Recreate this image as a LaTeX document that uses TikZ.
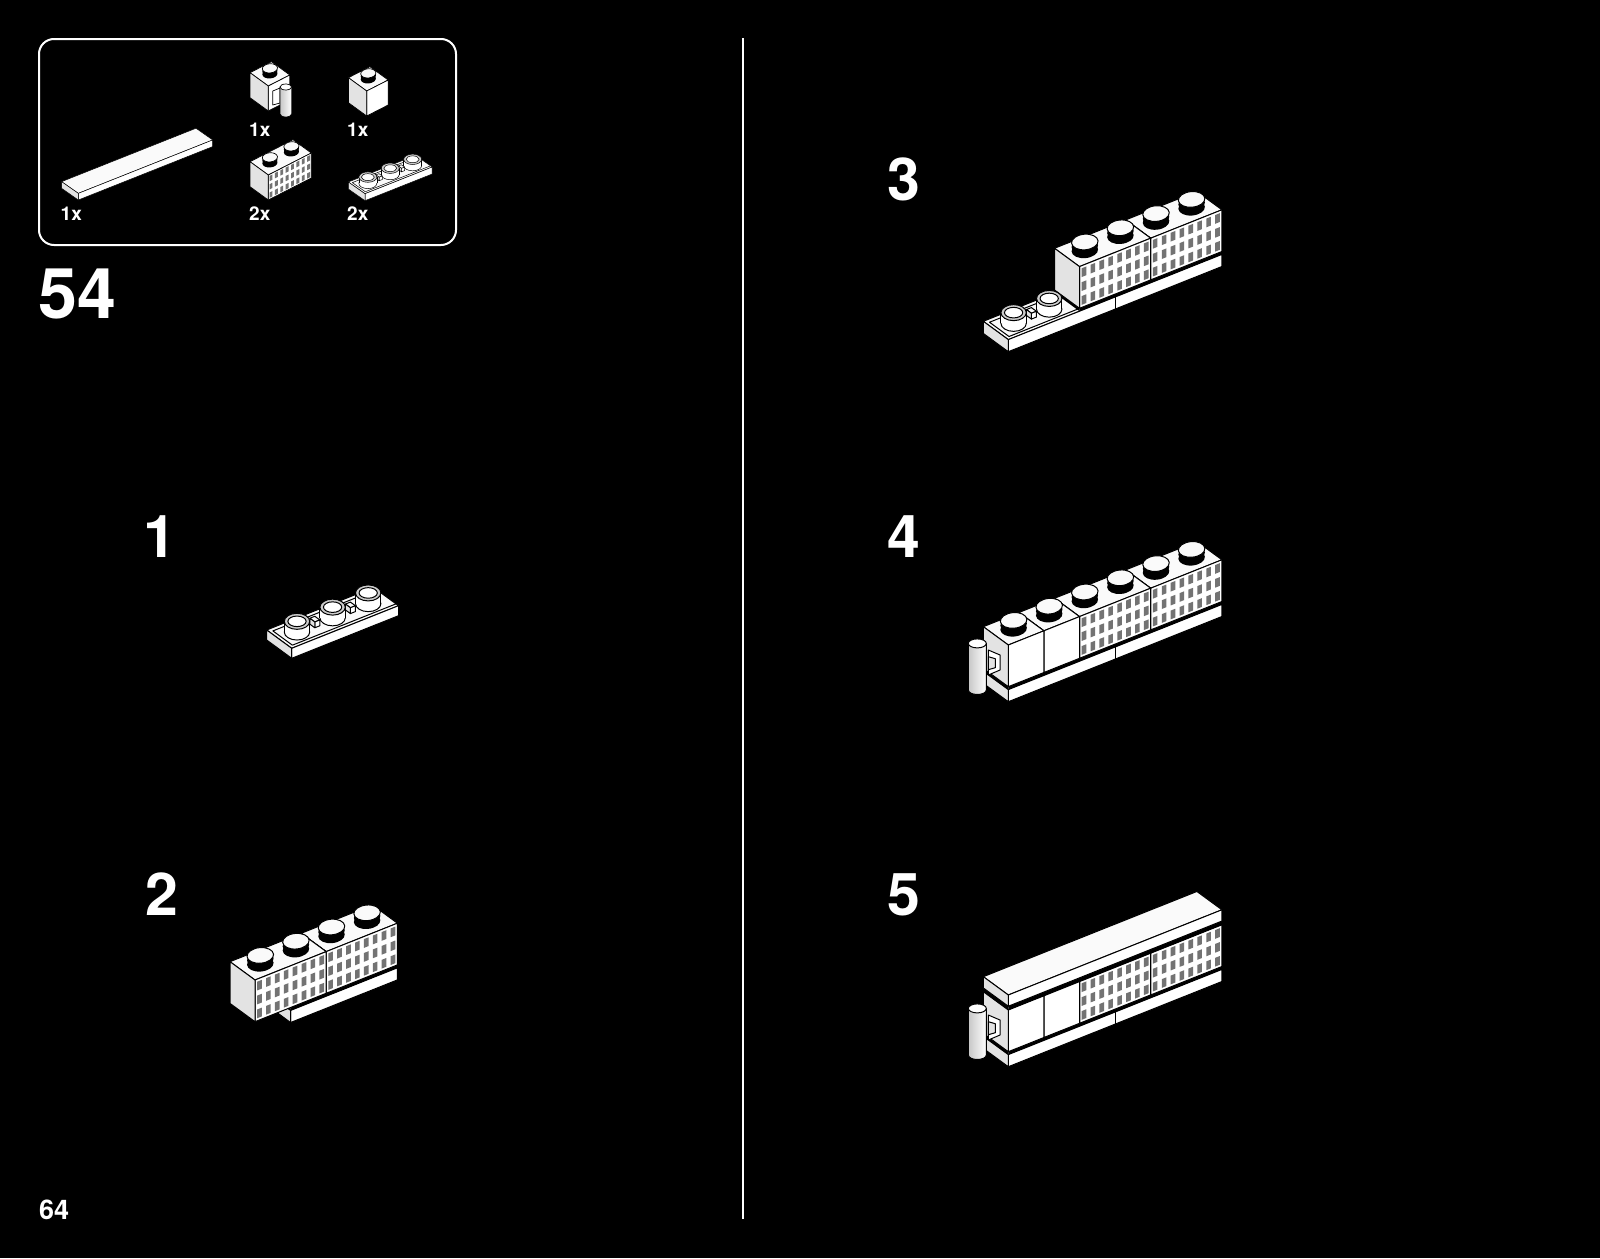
\documentclass[tikz,border=0pt]{standalone}
\usepackage{fontspec}
\setmainfont{TeX Gyre Heros}
\usetikzlibrary{calc}
\definecolor{endgray}{gray}{0.89}
\definecolor{topwhite}{gray}{0.98}
\definecolor{wingray}{gray}{0.45}
\definecolor{ringgray}{gray}{0.8}
\tikzset{
  face/.style={draw=black, line width=1pt, line join=round},
  stepiso/.style={x={(35.6pt,14.2pt)}, y={(0pt,41.7pt)}, z={(-25pt,18.3pt)}},
  brickiso/.style={x={(21.5pt,11pt)}, y={(0pt,25pt)}, z={(-18.3pt,13.3pt)}, face/.append style={line width=.7pt}},
  flatiso/.style={x={(22.4pt,8.9pt)}, y={(0pt,7pt)}, z={(-16.7pt,11.7pt)}, face/.append style={line width=.5pt}},
  hingeshade/.style={face, left color=black!22, right color=white},
  bignum/.style={inner sep=0pt, anchor=base west, text=white, font=\bfseries\fontsize{70}{70}\selectfont},
  stepnum/.style={inner sep=0pt, anchor=base west, text=white, font=\bfseries\fontsize{59}{59}\selectfont},
  pagenum/.style={inner sep=0pt, anchor=base west, text=white, font=\bfseries\fontsize{27}{27}\selectfont},
  qty/.style={inner sep=0pt, anchor=base west, text=white, font=\bfseries\fontsize{19}{19}\selectfont},
}
% sizes of the studs, changed inside the small parts
\def\srx{13.3}\def\sry{7.8}\def\sth{.2}
\def\hrx{12.7}\def\hry{8}\def\hth{.257}
% x0 x1 y0 y1 z0 z1
\newcommand{\block}[6]{
  \filldraw[face, fill=topwhite] (#1,#4,#5) -- (#2,#4,#5) -- (#2,#4,#6) -- (#1,#4,#6) -- cycle;
  \filldraw[face, fill=white] (#1,#3,#5) -- (#2,#3,#5) -- (#2,#4,#5) -- (#1,#4,#5) -- cycle;
  \filldraw[face, fill=endgray] (#1,#3,#5) -- (#1,#4,#5) -- (#1,#4,#6) -- (#1,#3,#6) -- cycle;
}
% x0 studs y0
\newcommand{\windows}[3]{
  \pgfmathtruncatemacro\nw{4*#2-1}
  \foreach \i in {0,...,\nw} {
    \foreach \j in {1,3,5} {
      \pgfmathsetmacro\wx{#1+.125+.25*\i}
      \pgfmathsetmacro\wy{#3+\j/6}
      \fill[wingray] (\wx-.065,\wy-.105,0) -- (\wx+.065,\wy-.105,0) -- (\wx+.065,\wy+.105,0) -- (\wx-.065,\wy+.105,0) -- cycle;
    }
  }
}
\newcommand{\stud}[2]{
  \fill[black] (#1+.5,#2,.5) ellipse [x radius=\srx pt, y radius=\sry pt, rotate=5];
  \fill[black] (#1+.5,#2+.5*\sth,.5) ellipse [x radius=\srx pt, y radius=\sry pt, rotate=5];
  \filldraw[face, fill=topwhite] (#1+.5,#2+\sth,.5) ellipse [x radius=\srx pt, y radius=\sry pt, rotate=5];
}
\newcommand{\hstud}[2]{
  \coordinate (hb) at (#1+.5,#2,.5);
  \coordinate (ht) at (#1+.5,#2+\hth,.5);
  \filldraw[face, fill=white] (hb) ellipse [x radius=\hrx pt, y radius=\hry pt];
  \fill[white] ($(hb)+(-\hrx pt,0pt)$) rectangle ($(ht)+(\hrx pt,0pt)$);
  \draw[face] ($(hb)+(-\hrx pt,0pt)$) -- ($(ht)+(-\hrx pt,0pt)$);
  \draw[face] ($(hb)+(\hrx pt,0pt)$) -- ($(ht)+(\hrx pt,0pt)$);
  \filldraw[face, fill=ringgray] (ht) ellipse [x radius=\hrx pt, y radius=\hry pt];
  \filldraw[face, fill=white] (ht) ellipse [x radius=.72*\hrx pt, y radius=.66*\hry pt];
}
% raised rim on a thin plate
\newcommand{\ledge}[3]{
  \draw[face] (#1+.09,#3,.1) -- (#2,#3,.1);
  \draw[face] (#1+.09,#3,.1) -- (#1+.09,#3,.88) -- (#2-.09,#3,.88);
}
% black strip under a brick
\newcommand{\gapband}[4]{
  \fill[black] (#1,#3,0) -- (#2,#3,0) -- (#2,#4,0) -- (#1,#4,0) -- cycle;
  \fill[black] (#1,#3,0) -- (#1,#4,0) -- (#1,#4,1) -- (#1,#3,1) -- cycle;
}
% hinge on the end of the row, in pixels from the lowest corner
\newcommand{\rowhinge}[2]{
  \begin{scope}[shift={(#1,#2)}]
    \filldraw[face, fill=white] (-20,-51.7) -- (-8.3,-46.7) -- (-8.3,-31.7) -- (-20,-26.7) -- cycle;
    \filldraw[face, fill=endgray] (-20,-45) -- (-13,-43) -- (-13,-34) -- (-20,-32) -- cycle;
    \path[hingeshade] (-40,-58.3) -- (-40,-11.7) arc [start angle=180, end angle=360, x radius=9, y radius=-4.5] -- (-22,-58.3) -- cycle;
    \filldraw[face, fill=white] (-31,-58.3) ellipse [x radius=9, y radius=4.5];
  \end{scope}
}
\begin{document}
\begin{tikzpicture}[x=1pt, y=-1pt]
\useasboundingbox (0,0) rectangle (1600,1258);
\fill[black] (0,0) rectangle (1600,1258);

% parts box
\draw[white, line width=2pt, rounded corners=15pt] (39,39) rectangle (456,245);
\draw[white, line width=2.3pt] (743,38) -- (743,1219);

\node[bignum] (title) at (38,318) {54};
\node[pagenum] (pageno) at (39,1219.5) {64};
\node[qty] (qtytile) at (60.5,220.7) {1x};
\node[qty] (qtyhinge) at (249,136) {1x};
\node[qty] (qtycube) at (347,136) {1x};
\node[qty] (qtywin) at (249,220.7) {2x};
\node[qty] (qtyjump) at (347,220.7) {2x};
\node[stepnum] (one) at (143.5,557) {1};
\node[stepnum] (two) at (145,915) {2};
\node[stepnum] (three) at (887.5,200.5) {3};
\node[stepnum] (four) at (887,557) {4};
\node[stepnum] (five) at (887.5,915) {5};

% the parts
\begin{scope}[shift={(78.3,200)}, flatiso]
  \block{0}{6}{0}{.95}{0}{1}
\end{scope}
\begin{scope}[shift={(268.3,111)}, brickiso]
  \def\srx{7.6}\def\sry{4.6}\def\sth{.22}
  \block{0}{1}{0}{1}{0}{1}
  \stud{0}{1}
\end{scope}
\filldraw[face, line width=.7pt, fill=white] (272.8,91) -- (280,88) -- (280,103) -- (272.8,105) -- cycle;
\path[hingeshade, line width=.7pt] (280,87) -- (280,114) arc [start angle=180, end angle=360, x radius=5.8, y radius=-3] -- (291.6,87) -- cycle;
\filldraw[face, line width=.7pt, fill=white] (285.8,87) ellipse [x radius=5.8, y radius=3];
\begin{scope}[shift={(366.7,116)}, brickiso]
  \def\srx{7.6}\def\sry{4.6}\def\sth{.22}
  \block{0}{1}{0}{1}{0}{1}
  \stud{0}{1}
\end{scope}
\begin{scope}[shift={(268.3,200)}, brickiso]
  \def\srx{7.6}\def\sry{4.6}\def\sth{.22}
  \block{0}{2}{0}{1}{0}{1}
  \windows{0}{2}{0}
  \stud{1}{1}
  \stud{0}{1}
\end{scope}
\begin{scope}[shift={(365,200.7)}, flatiso]
  \def\hrx{9}\def\hry{5.2}\def\hth{.9}
  \block{0}{3}{0}{1}{0}{1}
  \ledge{0}{3}{1}
  \hstud{2}{1}
  \block{1.93}{2.07}{1}{1.5}{.4}{.6}
  \hstud{1}{1}
  \block{.93}{1.07}{1}{1.5}{.4}{.6}
  \hstud{0}{1}
\end{scope}

% step 1
\begin{scope}[shift={(291.7,658.3)}, stepiso]
  \block{0}{3}{0}{.24}{0}{1}
  \ledge{0}{3}{.24}
  \hstud{2}{.24}
  \block{1.93}{2.07}{.24}{.38}{.4}{.6}
  \hstud{1}{.24}
  \block{.93}{1.07}{.24}{.38}{.4}{.6}
  \hstud{0}{.24}
\end{scope}

% step 2
\begin{scope}[shift={(255,1036.7)}, stepiso]
  \block{1}{4}{0}{.29}{0}{1}
  \gapband{1}{4}{.29}{.36}
  \block{2}{4}{.36}{1.36}{0}{1}
  \windows{2}{2}{.36}
  \block{0}{2}{.36}{1.36}{0}{1}
  \windows{0}{2}{.36}
  \foreach \i in {3,...,0} {
    \stud{\i}{1.36}
  }
\end{scope}

% step 3
\begin{scope}[shift={(1008.3,351.7)}, stepiso]
  \block{0}{6}{0}{.29}{0}{1}
  \draw[face] (3,0,0) -- (3,.29,0);
  \ledge{0}{2.05}{.29}
  \gapband{2}{6}{.29}{.36}
  \block{4}{6}{.36}{1.36}{0}{1}
  \windows{4}{2}{.36}
  \block{2}{4}{.36}{1.36}{0}{1}
  \windows{2}{2}{.36}
  \foreach \i in {5,...,2} {
    \stud{\i}{1.36}
  }
  \hstud{1}{.29}
  \block{.93}{1.07}{.29}{.43}{.4}{.6}
  \hstud{0}{.29}
\end{scope}

% step 4
\begin{scope}[shift={(1008.3,701.7)}, stepiso]
  \block{0}{6}{0}{.29}{0}{1}
  \draw[face] (3,0,0) -- (3,.29,0);
  \gapband{0}{6}{.29}{.36}
  \block{4}{6}{.36}{1.36}{0}{1}
  \windows{4}{2}{.36}
  \block{2}{4}{.36}{1.36}{0}{1}
  \windows{2}{2}{.36}
  \block{1}{2}{.36}{1.36}{0}{1}
  \block{0}{1}{.36}{1.36}{0}{1}
  \foreach \i in {5,...,0} {
    \stud{\i}{1.36}
  }
\end{scope}
\rowhinge{1008.3}{701.7}

% step 5
\begin{scope}[shift={(1008.3,1066.7)}, stepiso]
  \block{0}{6}{0}{.29}{0}{1}
  \draw[face] (3,0,0) -- (3,.29,0);
  \gapband{0}{6}{.29}{.36}
  \block{4}{6}{.36}{1.36}{0}{1}
  \windows{4}{2}{.36}
  \block{2}{4}{.36}{1.36}{0}{1}
  \windows{2}{2}{.36}
  \block{1}{2}{.36}{1.36}{0}{1}
  \block{0}{1}{.36}{1.36}{0}{1}
  \gapband{0}{6}{1.36}{1.45}
  \block{0}{6}{1.45}{1.72}{0}{1}
\end{scope}
\rowhinge{1008.3}{1066.7}
\end{tikzpicture}
\end{document}
